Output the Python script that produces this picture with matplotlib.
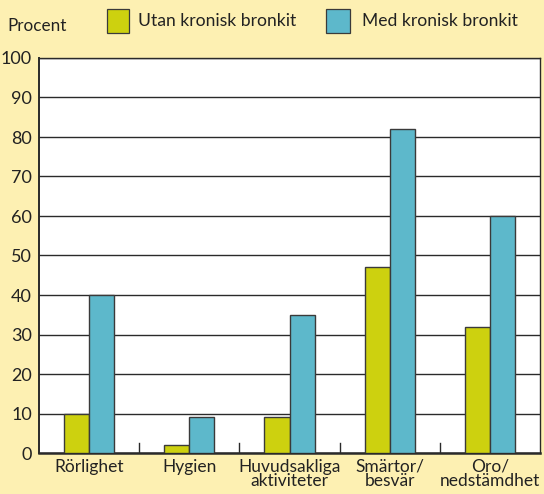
import matplotlib
matplotlib.use("Agg")
import matplotlib.pyplot as plt
import numpy as np
from matplotlib.patches import Rectangle

categories = ["Rörlighet", "Hygien", "Huvudsakliga\naktiviteter", "Smärtor/\nbesvär", "Oro/\nnedstämdhet"]
utan = [10, 2, 9, 47, 32]
med = [40, 9, 35, 82, 60]

BG = "#FDF0B2"
YEL = "#CDD10F"
BLU = "#5DB8CB"
EDGE = "#3A3A3A"
FONT = "Lato"

fig = plt.figure(figsize=(5.44, 4.94), dpi=100, facecolor=BG)
# axes box in pixels: x 39..540, y 58..453
ax = fig.add_axes([39 / 544, 1 - 453 / 494, 501 / 544, 395 / 494])
ax.set_facecolor("white")

x = np.arange(len(categories))
w = 0.25
ax.bar(x - w / 2, utan, w, color=YEL, edgecolor=EDGE, linewidth=1.0, zorder=3)
ax.bar(x + w / 2, med, w, color=BLU, edgecolor=EDGE, linewidth=1.0, zorder=3)

ax.set_xlim(-0.5, len(categories) - 0.5)
ax.set_ylim(0, 100)
ax.set_yticks(range(0, 101, 10))
ax.set_yticklabels([str(v) for v in range(0, 101, 10)], fontsize=13, family=FONT,
                   color="#222222")
ax.yaxis.grid(True, color="#2a2a2a", linewidth=1.0, zorder=1)
ax.tick_params(axis="y", length=0, pad=5)

ax.set_xticks(x)
ax.set_xticklabels(categories, fontsize=12.5, family=FONT, linespacing=0.9, color="#222222")
ax.tick_params(axis="x", length=0, pad=4)
# short separators between the groups
for b in np.arange(0.5, len(categories) - 0.5, 1):
    ax.plot([b, b], [0, 2.6], color="#2a2a2a", linewidth=1.0, zorder=2)

for s in ax.spines.values():
    s.set_color("#2a2a2a")
    s.set_linewidth(1.0)
ax.spines["bottom"].set_linewidth(1.8)
ax.spines["left"].set_linewidth(1.4)

fig.text(7 / 544, 1 - 26 / 494, "Procent", fontsize=12.3, family=FONT, va="center", ha="left",
         color="#222222")
fig.patches.append(Rectangle((107 / 544, 1 - 33 / 494), 22 / 544, 24 / 494,
                             transform=fig.transFigure, facecolor=YEL, edgecolor=EDGE, linewidth=0.9))
fig.text(138 / 544, 1 - 21 / 494, "Utan kronisk bronkit", fontsize=12.6, family=FONT,
         va="center", ha="left", color="#222222")
fig.patches.append(Rectangle((326 / 544, 1 - 33 / 494), 24 / 544, 24 / 494,
                             transform=fig.transFigure, facecolor=BLU, edgecolor=EDGE, linewidth=0.9))
fig.text(362 / 544, 1 - 21 / 494, "Med kronisk bronkit", fontsize=12.6, family=FONT,
         va="center", ha="left", color="#222222")

fig.savefig("out.png", dpi=100, facecolor=BG)
